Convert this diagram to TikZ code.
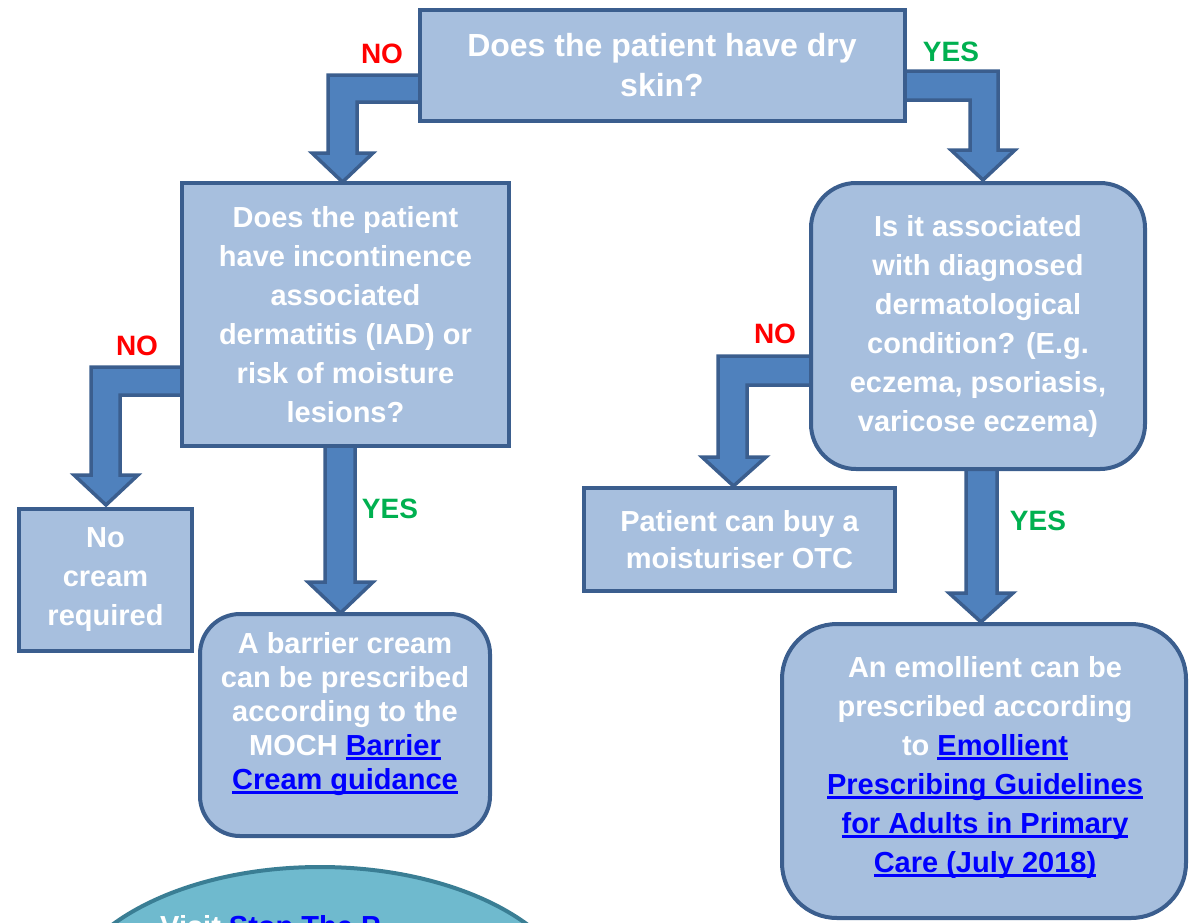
\documentclass[tikz,border=0pt]{standalone}
\usepackage{fontspec}
\setmainfont{Liberation Sans}
\definecolor{boxfill}{HTML}{A7BFDE}
\definecolor{boxline}{HTML}{3B5E8E}
\definecolor{arrowfill}{HTML}{4F81BD}
\definecolor{arrowline}{HTML}{3B5E8E}
\definecolor{ellfill}{HTML}{6FBACE}
\definecolor{ellline}{HTML}{3A7E94}
\definecolor{nored}{HTML}{FF0000}
\definecolor{yesgreen}{HTML}{00B050}
\definecolor{linkblue}{HTML}{0000FF}
\newcommand\lk[1]{{\color{linkblue}\setbox0\hbox{#1}\rlap{\rule[-4.5pt]{\wd0}{2.6pt}}\box0}}
\tikzset{
  sqbox/.style={draw=boxline, fill=boxfill, line width=4pt, inner sep=0pt, text=white, align=center,
    font=\fontsize{29}{39}\selectfont\bfseries},
  rdbox/.style={sqbox, rounded corners=#1},
  txt/.style={text=white, align=center, inner sep=0pt, font=\fontsize{29}{34}\selectfont\bfseries},
  blockarrow/.style={fill=arrowfill, draw=arrowline, line width=3.5pt, line join=miter},
  nolab/.style={text=nored, font=\fontsize{28}{34}\selectfont\bfseries, inner sep=0pt},
  yeslab/.style={text=yesgreen, font=\fontsize{28}{34}\selectfont\bfseries, inner sep=0pt},
  ellshape/.style={draw=ellline, fill=ellfill, line width=4pt},
}
\begin{document}
\begin{tikzpicture}[x=1pt, y=-1pt]
\useasboundingbox (0,0) rectangle (1189,922);
% ellipse at bottom
\coordinate (visit) at (320,1012);
\draw[ellshape] (visit) ellipse [x radius=260, y radius=145];
\node[anchor=base west, inner sep=0pt, text=white, font=\fontsize{29}{34}\selectfont\bfseries] (visittxt) at (160,936) {Visit \lk{Stop The P}};
% block arrows (drawn beneath boxes)
\draw[blockarrow] (430,75) -- (328,75) -- (328,153) -- (312,153) -- (342.5,182) -- (373,153) -- (357,153) -- (357,102) -- (430,102);
\draw[blockarrow] (895,71) -- (998,71) -- (998,150) -- (1015,150) -- (983,180) -- (951,150) -- (970,150) -- (970,100) -- (895,100);
\draw[blockarrow] (192,367) -- (91,367) -- (91,475) -- (74,475) -- (106,505) -- (138,475) -- (120,475) -- (120,395) -- (192,395);
\draw[blockarrow] (822,356) -- (718,356) -- (718,457) -- (702,457) -- (733.5,486) -- (766,457) -- (747,457) -- (747,385) -- (822,385);
\draw[blockarrow] (325,440) -- (325,582) -- (308,582) -- (340.5,613) -- (373,582) -- (355,582) -- (355,440);
\draw[blockarrow] (966,460) -- (966,593) -- (949,593) -- (981,622) -- (1013,593) -- (997,593) -- (997,460);
% boxes
\node[sqbox, minimum width=485pt, minimum height=111pt, font=\fontsize{32}{40}\selectfont\bfseries] (q1) at (662,65) {Does the patient have dry\\skin?};
\node[sqbox, minimum width=327pt, minimum height=263pt] (q2) at (345.5,314.5) {Does the patient\\have incontinence\\associated\\dermatitis (IAD) or\\risk of moisture\\lesions?};
\node[rdbox=45pt, minimum width=334pt, minimum height=286pt] (q3) at (978,326) {Is it associated\\with diagnosed\\dermatological\\condition? (E.g.\\eczema, psoriasis,\\varicose eczema)};
\node[sqbox, minimum width=173pt, minimum height=142pt] (nocream) at (105.5,580) {No\\cream\\required};
\node[sqbox, minimum width=311pt, minimum height=103pt, font=\fontsize{29}{37}\selectfont\bfseries] (otc) at (739.5,539.5) {Patient can buy a\\moisturiser OTC};
\node[rdbox=40pt, minimum width=290pt, minimum height=222pt] (barrier) at (345,725) {};
\node[txt] (barriertxt) at (345,714) {A barrier cream\\can be prescribed\\according to the\\MOCH \lk{Barrier}\\\lk{Cream guidance}};
\node[rdbox=55pt, minimum width=404pt, minimum height=294pt] (emol) at (984,771) {};
\node[txt, font=\fontsize{29}{39}\selectfont\bfseries] (emoltxt) at (985,767) {An emollient can be\\prescribed according\\to \lk{Emollient}\\\lk{Prescribing Guidelines}\\\lk{for Adults in Primary}\\\lk{Care (July 2018)}};
% labels
\node[nolab] (no1) at (382,54) {NO};
\node[yeslab] (yes1) at (951,52) {YES};
\node[nolab] (no2) at (137,346) {NO};
\node[nolab] (no3) at (775,334) {NO};
\node[yeslab] (yes2) at (390,509) {YES};
\node[yeslab] (yes3) at (1038,521) {YES};
\end{tikzpicture}
\end{document}
